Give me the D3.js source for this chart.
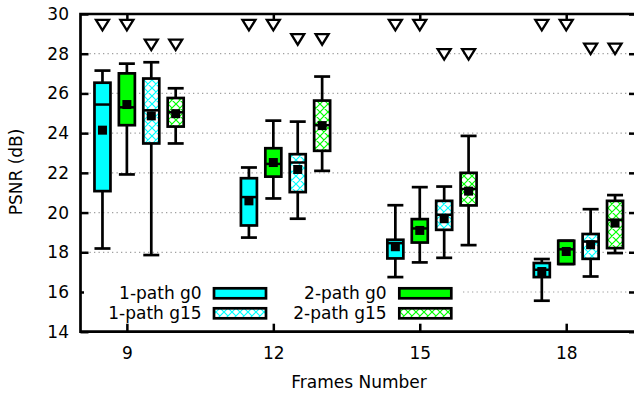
<!DOCTYPE html>
<html><head><meta charset="utf-8">
<script src="https://cdn.jsdelivr.net/npm/d3@7"></script>
<style>body{margin:0;background:#fff}svg{display:block}text{font-family:"DejaVu Sans",sans-serif;font-size:17px;fill:#000}</style>
</head><body><div id="chart"></div>
<script>
// ---- data ----
const frames = [9, 12, 15, 18];
const seriesNames = ["1-path g0", "2-path g0", "1-path g15", "2-path g15"];
const seriesOffsets = [-0.5, 0, 0.5, 1.0];
// each entry per frame: [whiskerMin, q1, median, q3, whiskerMax]
const path1g0 = [[18.19,21.08,25.44,26.54,27.15],[18.74,19.35,20.78,21.73,22.27],[16.75,17.69,18.46,18.63,20.37],[15.56,16.75,17.12,17.46,17.66]];
const path2g0 = [[21.92,24.40,25.30,27.01,27.50],[20.71,21.81,22.45,23.24,24.63],[17.49,18.49,19.20,19.67,21.28],[17.41,17.41,18.15,18.58,18.58]];
const path1g15 = [[17.86,23.48,25.15,26.75,27.57],[19.69,21.03,22.52,22.94,24.58],[17.72,19.13,19.89,20.59,21.31],[16.78,17.67,18.54,18.92,20.17]];
const path2g15 = [[23.48,24.33,25.05,25.77,26.26],[22.10,23.11,24.40,25.64,26.85],[18.36,20.36,21.19,22.00,23.86],[17.96,18.21,19.63,20.59,20.88]];
const mean1g0 = [24.15, 20.59, 18.28, 17.03];
const mean2g0 = [25.44, 22.52, 19.10, 18.04];
const mean1g15 = [24.87, 22.17, 19.69, 18.38];
const mean2g15 = [24.98, 24.38, 21.08, 19.47];
const peak1g0 = [29.45, 29.45, 29.45, 29.45];
const peak2g0 = [29.45, 29.45, 29.45, 29.45];
const peak1g15 = [28.46, 28.73, 27.98, 28.26];
const peak2g15 = [28.46, 28.73, 27.98, 28.26];
const yTicks = [14, 16, 18, 20, 22, 24, 26, 28, 30];
const xTicks = [9, 12, 15, 18];

const boxes = [path1g0, path2g0, path1g15, path2g15];
const means = [mean1g0, mean2g0, mean1g15, mean2g15];
const peaks = [peak1g0, peak2g0, peak1g15, peak2g15];
const colors = ["#00ffff", "#00ff00", "#00ffff", "#00ff00"];
const patterned = [false, false, true, true];

// ---- layout ----
const W = 634, H = 399;
const x = d3.scaleLinear().domain([8.05, 19.45]).range([80.5, 637]);
const y = d3.scaleLinear().domain([14, 30]).range([331.7, 14]);
const boxW = 16;

const svg = d3.select("#chart").append("svg").attr("width", W).attr("height", H);
const defs = svg.append("defs");
["cy", "gr"].forEach((id, i) => {
  const col = i === 0 ? "#00ffff" : "#00ff00";
  const p = defs.append("pattern").attr("id", "pat-" + id).attr("patternUnits", "userSpaceOnUse")
    .attr("width", 8).attr("height", 8);
  p.append("rect").attr("width", 8).attr("height", 8).attr("fill", "#fff");
  p.append("path").attr("d", "M0,0L8,8M8,0L0,8M-1,7L1,9M7,-1L9,1M-1,1L1,-1M7,9L9,7")
    .attr("stroke", col).attr("stroke-width", 1.2).attr("fill", "none");
});
const fillFor = i => patterned[i] ? (colors[i] === "#00ffff" ? "url(#pat-cy)" : "url(#pat-gr)") : colors[i];

// grid
const x0 = x.range()[0], x1 = x.range()[1];
svg.append("g").selectAll("line").data(yTicks.filter(t => t > 14 && t < 30)).join("line")
  .attr("x1", x0).attr("x2", x1).attr("y1", d => y(d)).attr("y2", d => y(d))
  .attr("stroke", "#a0a0a0").attr("stroke-width", 1.2).attr("stroke-dasharray", "1.3,3.2");

// axes
const axL = svg.append("g").attr("transform", `translate(${x0},0)`)
  .call(d3.axisLeft(y).tickValues(yTicks).tickSizeInner(-8).tickSizeOuter(0).tickPadding(11.5));
const axR = svg.append("g").attr("transform", `translate(${x1},0)`)
  .call(d3.axisRight(y).tickValues(yTicks).tickSizeInner(-8).tickSizeOuter(0).tickFormat(""));
const axB = svg.append("g").attr("transform", `translate(0,${y(14)})`)
  .call(d3.axisBottom(x).tickValues(xTicks).tickSizeInner(-8).tickSizeOuter(0).tickPadding(15));
const axT = svg.append("g").attr("transform", `translate(0,${y(30)})`)
  .call(d3.axisTop(x).tickValues(xTicks).tickSizeInner(-7).tickSizeOuter(0).tickFormat(""));
[axL, axR, axB, axT].forEach(a => {
  a.select(".domain").remove();
  a.selectAll(".tick line").attr("stroke", "#000").attr("stroke-width", 2.5);
  a.selectAll("text").attr("font-family", "DejaVu Sans").attr("font-size", 17).attr("fill", "#000");
});

// boxes
const G = svg.append("g");
boxes.forEach((ser, si) => {
  ser.forEach((b, fi) => {
    const cx = x(frames[fi] + seriesOffsets[si]);
    const g = G.append("g");
    const [lo, q1, med, q3, hi] = b;
    g.append("line").attr("x1", cx).attr("x2", cx).attr("y1", y(hi)).attr("y2", y(q3)).attr("stroke", "#000").attr("stroke-width", 2.7);
    g.append("line").attr("x1", cx).attr("x2", cx).attr("y1", y(q1)).attr("y2", y(lo)).attr("stroke", "#000").attr("stroke-width", 2.7);
    g.append("line").attr("x1", cx - boxW / 2).attr("x2", cx + boxW / 2).attr("y1", y(hi)).attr("y2", y(hi)).attr("stroke", "#000").attr("stroke-width", 2.7);
    g.append("line").attr("x1", cx - boxW / 2).attr("x2", cx + boxW / 2).attr("y1", y(lo)).attr("y2", y(lo)).attr("stroke", "#000").attr("stroke-width", 2.7);
    g.append("rect").attr("x", cx - boxW / 2).attr("width", boxW).attr("y", y(q3)).attr("height", Math.max(0.5, y(q1) - y(q3)))
      .attr("fill", fillFor(si)).attr("stroke", "#000").attr("stroke-width", 2.7);
    g.append("line").attr("x1", cx - boxW / 2).attr("x2", cx + boxW / 2).attr("y1", y(med)).attr("y2", y(med)).attr("stroke", "#000").attr("stroke-width", 2.5);
    const m = means[si][fi];
    g.append("rect").attr("x", cx - 4.5).attr("y", y(m) - 4.5).attr("width", 9).attr("height", 9).attr("fill", "#000");
    const p = peaks[si][fi];
    const py = y(p);
    g.append("path").attr("d", `M${cx - 6.5},${py - 5}L${cx + 6.5},${py - 5}L${cx},${py + 5.5}Z`)
      .attr("fill", "#fff").attr("stroke", "#000").attr("stroke-width", 2.3).attr("stroke-linejoin", "miter");
  });
});

// border
svg.append("path").attr("d", `M${x0},${y(30)}L${x0},${y(14)}L${x1},${y(14)}L${x1},${y(30)}Z`)
  .attr("fill", "none").attr("stroke", "#000").attr("stroke-width", 2.7);

// legend
const leg = svg.append("g");
leg.append("rect").attr("x", 84).attr("y", 283).attr("width", 378).attr("height", 40).attr("fill", "#fff");
const legPos = [[201.7, 214, 293.3], [386.7, 399.3, 293.3], [201.7, 214, 313.3], [386.7, 399.3, 313.3]];
seriesNames.forEach((name, i) => {
  const [tx, bx, ty] = legPos[i];
  leg.append("text").attr("x", tx).attr("y", ty).attr("dy", "0.36em").attr("text-anchor", "end").text(name);
  leg.append("rect").attr("x", bx).attr("y", ty - 5).attr("width", 52).attr("height", 10)
    .attr("fill", fillFor(i)).attr("stroke", "#000").attr("stroke-width", 2.7);
});

// axis titles
svg.append("text").attr("x", 359).attr("y", 388).attr("text-anchor", "middle").text("Frames Number");
svg.append("text").attr("transform", "translate(22,172) rotate(-90)").attr("text-anchor", "middle").text("PSNR (dB)");
</script></body></html>
